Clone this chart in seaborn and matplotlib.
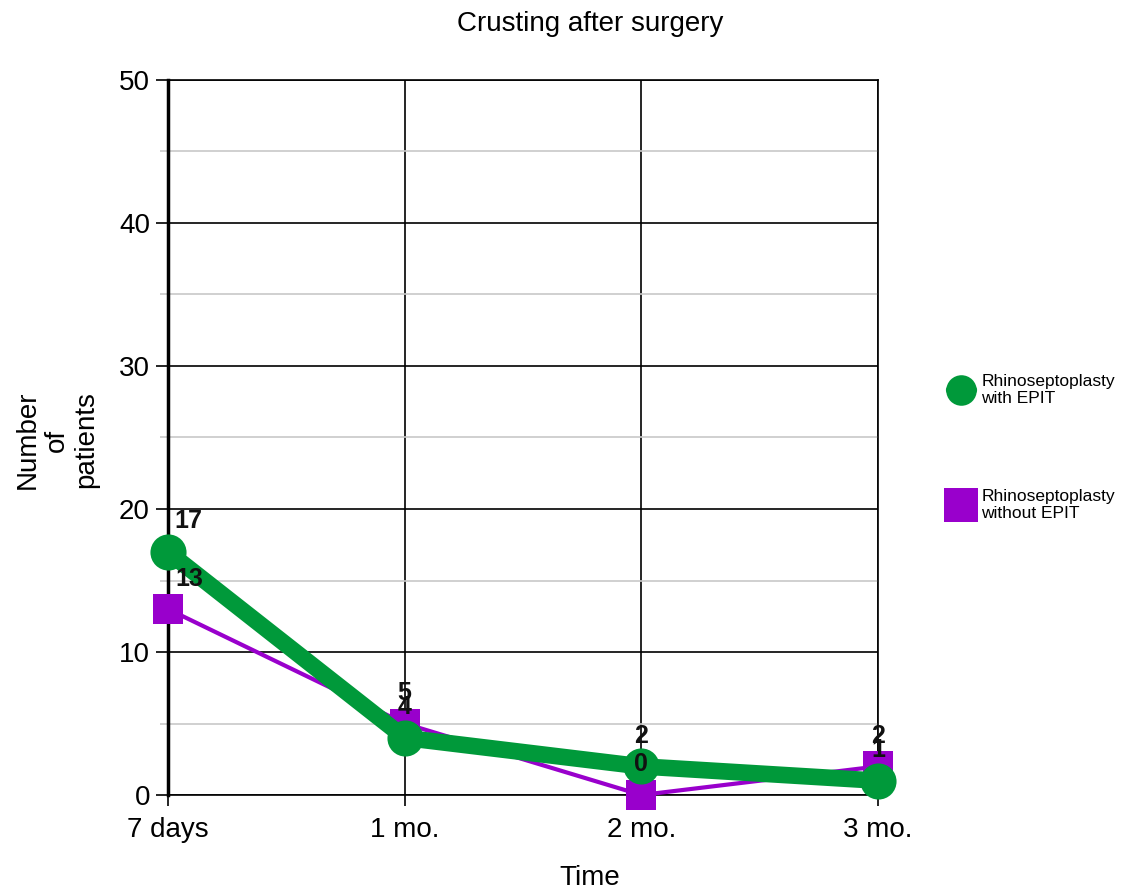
import matplotlib
matplotlib.use("Agg")
import matplotlib.pyplot as plt
import seaborn as sns
import pandas as pd
from matplotlib.lines import Line2D
from matplotlib.ticker import MultipleLocator

sns.set_style("white")
plt.rcParams['font.family'] = ['Liberation Sans', 'DejaVu Sans']

# ---- data ----
time_points = ["7 days", "1 mo.", "2 mo.", "3 mo."]
with_epit = [17, 4, 2, 1]
without_epit = [13, 5, 0, 2]
series_names = ["Rhinoseptoplasty\nwith EPIT", "Rhinoseptoplasty\nwithout EPIT"]
title = "Crusting after surgery"
x_label = "Time"
y_label = "Number\nof\npatients"

green = "#00993a"
purple = "#9900cc"

df_with = pd.DataFrame({"Time": time_points, "Patients": with_epit})
df_without = pd.DataFrame({"Time": time_points, "Patients": without_epit})

fig = plt.figure(figsize=(11.29, 8.92), dpi=100)
ax = fig.add_axes([168/1129, 1-795/892, (878-168)/1129, (795-80)/892])

sns.lineplot(data=df_without, x="Time", y="Patients", ax=ax, color=purple,
             lw=3, marker="s", markersize=22, markeredgewidth=0,
             sort=False, clip_on=False, zorder=3)
sns.lineplot(data=df_with, x="Time", y="Patients", ax=ax, color=green,
             lw=12, marker="o", markersize=26, markeredgewidth=0,
             sort=False, clip_on=False, zorder=4)

# value labels
for vals in (without_epit, with_epit):
    for i, v in enumerate(vals):
        dx = 15 if i == 0 else 0
        ax.annotate(str(v), (i, v), xytext=(dx, 22), textcoords="offset points",
                    ha="center", va="center", fontsize=18, fontweight="bold",
                    color="#111111", zorder=6, annotation_clip=False)

ax.set_xlim(0, len(time_points) - 1)
ax.set_ylim(0, 50)
ax.yaxis.set_major_locator(MultipleLocator(10))
ax.yaxis.set_minor_locator(MultipleLocator(5))

ax.grid(True, which="major", axis="both", color="black", lw=1.2, zorder=0)
ax.grid(True, which="minor", axis="y", color="#c8c8c8", lw=1.2, zorder=0)
ax.set_axisbelow(True)

ax.tick_params(axis="y", which="major", length=9, width=1.2, color="black",
               labelsize=20, pad=4, left=True, labelcolor="black")
ax.tick_params(axis="y", which="minor", length=6, width=1.2, color="#c8c8c8", left=True)
ax.tick_params(axis="x", which="major", length=8, width=1.2, color="black",
               labelsize=20, pad=8, bottom=True, labelcolor="black")

for s in ["top", "right", "bottom"]:
    ax.spines[s].set_color("black")
    ax.spines[s].set_linewidth(1.2)
ax.spines["left"].set_color("black")
ax.spines["left"].set_linewidth(2.5)

ax.set_xlabel("")
ax.set_ylabel("")
fig.text(590/1129, 1-878/892, x_label, ha="center", va="center", fontsize=20, color="black")
fig.text(57/1129, 1-440/892, y_label, ha="center", va="center", fontsize=20,
         rotation=90, linespacing=1.15, multialignment="center", color="black")
fig.text(590/1129, 1-24/892, title, ha="center", va="center", fontsize=20, color="black")

handles = [
    Line2D([0], [0], color=green, lw=6, marker="o", markersize=22, markeredgewidth=0),
    Line2D([0], [0], color=purple, lw=2, marker="s", markersize=24, markeredgewidth=0),
]
fig.legend(handles, series_names, loc="upper left", bbox_to_anchor=(943/1129, 1-367/892),
           frameon=False, fontsize=12.5, handlelength=1.3, handletextpad=0.5,
           labelspacing=4.75, borderaxespad=0, labelcolor="black")

fig.savefig("out.png", dpi=100)
